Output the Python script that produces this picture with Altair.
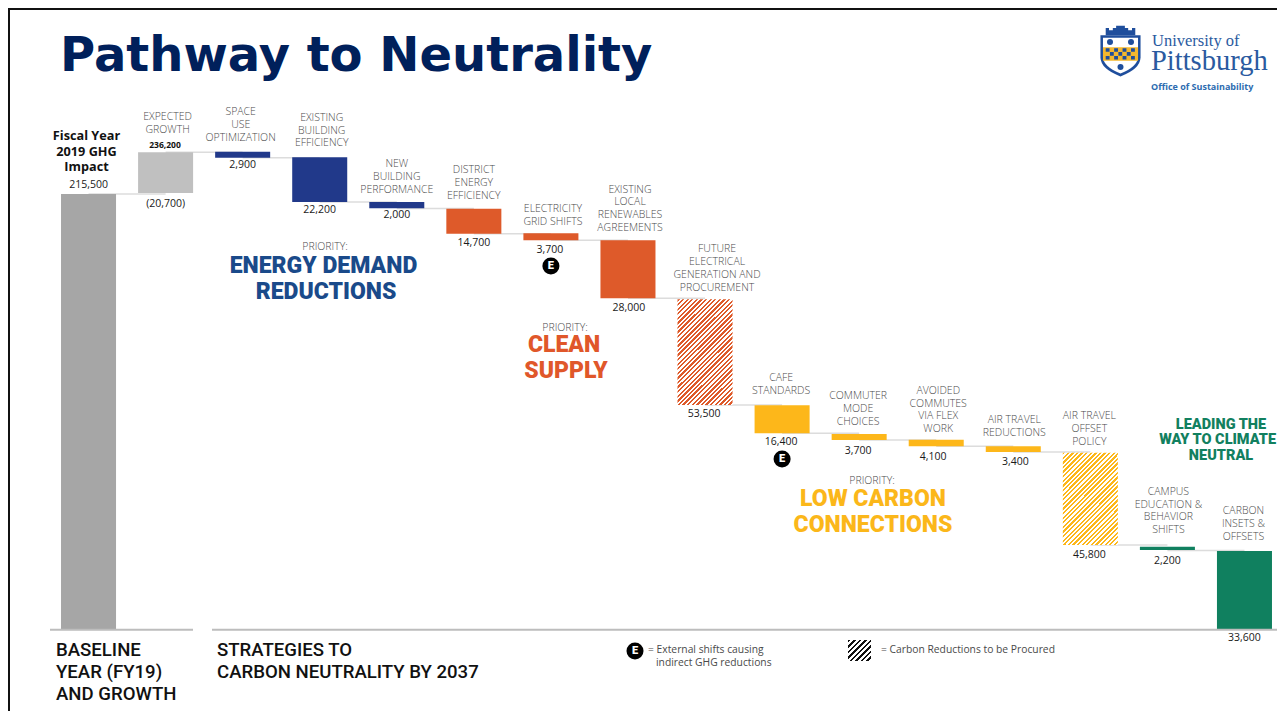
import math
import altair as alt
import pandas as pd

# ---- data (tonnes CO2e; extents as drawn) ----
names = ["Fiscal Year\n2019 GHG\nImpact", "EXPECTED\nGROWTH", "SPACE\nUSE\nOPTIMIZATION",
         "EXISTING\nBUILDING\nEFFICIENCY", "NEW\nBUILDING\nPERFORMANCE", "DISTRICT\nENERGY\nEFFICIENCY",
         "ELECTRICITY\nGRID SHIFTS", "EXISTING\nLOCAL\nRENEWABLES\nAGREEMENTS",
         "FUTURE\nELECTRICAL\nGENERATION AND\nPROCUREMENT", "CAFE\nSTANDARDS",
         "COMMUTER\nMODE\nCHOICES", "AVOIDED\nCOMMUTES\nVIA FLEX\nWORK", "AIR TRAVEL\nREDUCTIONS",
         "AIR TRAVEL\nOFFSET\nPOLICY", "CAMPUS\nEDUCATION &\nBEHAVIOR\nSHIFTS", "CARBON\nINSETS &\nOFFSETS"]
groups = ["Baseline", "Growth", "Energy", "Energy", "Energy", "Supply", "Supply", "Supply", "Supply",
          "Low", "Low", "Low", "Low", "Low", "Lead", "Lead"]
tops = [215500, 236200, 236400, 233650, 211560, 208250, 196100, 192650, 163470, 111070, 96880,
        94070, 90800, 87640, 41180, 39050]
bottoms = [0, 216000, 233450, 211560, 208450, 195900, 192650, 163960, 111220, 97230, 93920,
           90800, 87990, 42020, 39540, 0]
levels = [215500, 236200, 233500, 211560, 208350, 195900, 192650, 163960, 111220, 97230, 93920,
          90800, 87990, 42020, 39300]
value_labels = ["215,500", "(20,700)", "2,900", "22,200", "2,000", "14,700", "3,700", "28,000", "53,500",
                "16,400", "3,700", "4,100", "3,400", "45,800", "2,200", "33,600"]
hatched = ["FUTURE\nELECTRICAL\nGENERATION AND\nPROCUREMENT", "AIR TRAVEL\nOFFSET\nPOLICY"]
badge_names = ["ELECTRICITY\nGRID SHIFTS", "CAFE\nSTANDARDS"]
badge_values = [179900, 84500]

group_domain = ["Baseline", "Growth", "Energy", "Supply", "Low", "Lead"]
group_colors = ["#a6a6a6", "#c0c0c0", "#21398a", "#de5a2a", "#fdb71a", "#10805f"]

# ---- label layout (px offsets from each bar, kept apart from the data) ----
NAME_GAP = [27, 22, 13.7, 14, 12.3, 12.7, 11.6, 12.3, 11.6, 14.6, 12, 10.4, 13.3, 10.7, 16.4, 14]
NAME_DX = [-2, 2, -2, 2, 0, 0, 2, 2, 12, -1, -1, 2, 1, -1, 1, -1]
VALUE_GAP = [-9, 11, 7.6, 7.7, 6.7, 9.6, 9.7, 10, 8.7, 8.7, 10.7, 10.4, 10, 10.3, 10.7, 8.4]
VALUE_DX = [0, 0, 0, 0, 0, 0, -1, 1, -1, -1, -1, -3, 2, -1, 0, 0]

df = pd.DataFrame({"name": names, "group": groups, "top": tops, "bottom": bottoms, "value": value_labels})
solid = df[~df.name.isin(hatched)]
conn = pd.DataFrame({"a": names[:-1], "b": names[1:], "level": levels})
badges = pd.DataFrame({"name": badge_names, "v": badge_values, "t": ["E", "E"]})

X0, Y0 = 50, 100
WIDTH, HEIGHT = 1227, 530
x_scale = alt.Scale(domain=names, range=[0, 1233], paddingInner=0.286, paddingOuter=0.143, round=False)
y_scale = alt.Scale(domain=[0, 262000], nice=False)
x = alt.X("name:N", axis=None, scale=x_scale)
y_top = alt.Y("top:Q", axis=None, scale=y_scale)
y_bottom = alt.Y("bottom:Q", axis=None, scale=y_scale)
LIGHT = "Open Sans"
TEXT_GREY = "#4a4a4a"


def hatch(color, w, h, period):
    k = (w + h) / (w * w + h * h)
    n = int((w + h) / math.sqrt(2) / period)
    stops = []
    for i in range(n):
        stops += [alt.GradientStop(color=color, offset=i / n),
                  alt.GradientStop(color=color, offset=(i + 0.5) / n),
                  alt.GradientStop(color="#ffffff", offset=(i + 0.5) / n),
                  alt.GradientStop(color="#ffffff", offset=(i + 1) / n)]
    return alt.LinearGradient(gradient="linear", stops=stops, x1=0, y1=0, x2=k * w, y2=k * h)


def note(text, px, py, color="#111111", size=10.5, font=LIGHT, weight=400, align="center"):
    return alt.Chart(pd.DataFrame({"t": [text]})).mark_text(
        color=color, fontSize=size, font=font, fontWeight=weight, align=align, baseline="middle",
    ).encode(x=alt.value(px - X0), y=alt.value(py - Y0), text="t:N")


def hline(x1, x2, py, color, width):
    return alt.Chart(pd.DataFrame({"a": [0]})).mark_rule(color=color, strokeWidth=width).encode(
        x=alt.value(x1 - X0), x2=alt.value(x2 - X0), y=alt.value(py - Y0))


def vline(px, y1, y2, color, width):
    return alt.Chart(pd.DataFrame({"a": [0]})).mark_rule(color=color, strokeWidth=width).encode(
        x=alt.value(px - X0), y=alt.value(y1 - Y0), y2=alt.value(y2 - Y0))


def logo_shape(path, color, size=12000):
    return alt.Chart(pd.DataFrame({"a": [0]})).mark_point(
        shape=path, filled=True, fill=color, stroke=None, opacity=1, size=size
    ).encode(x=alt.value(1120.5 - X0), y=alt.value(51 - Y0))


layers = []
# frame
layers += [hline(8, 1277, 9, "#111111", 2), vline(9, 8, 711, "#111111", 2)]
# title
layers.append(note("Pathway to Neutrality", 60, 57, "#00205b", 48, "DejaVu Sans", 700, "left"))
# connectors
layers.append(alt.Chart(conn).mark_rule(color="#dcdcdc", strokeWidth=1.5).encode(
    x=alt.X("a:N", axis=None, scale=x_scale),
    x2="b:N",
    y=alt.Y("level:Q", axis=None, scale=y_scale)))
# bars
layers.append(alt.Chart(solid).mark_bar().encode(
    x=x, y=y_top, y2="bottom:Q",
    color=alt.Color("group:N", legend=None, scale=alt.Scale(domain=group_domain, range=group_colors))))
layers.append(alt.Chart(df[df.name == hatched[0]]).mark_bar(fill=hatch("#de5a2a", 55, 106, 3.2)).encode(
    x=x, y=y_top, y2="bottom:Q"))
layers.append(alt.Chart(df[df.name == hatched[1]]).mark_bar(fill=hatch("#fdb71a", 55, 92, 3.2)).encode(
    x=x, y=y_top, y2="bottom:Q"))
# axis lines
layers += [hline(50, 193, 629.8, "#bdbdbd", 2), hline(212, 1277, 629.8, "#bdbdbd", 2)]
# bar names and values
for i, nm in enumerate(names):
    row = df.iloc[[i]]
    lines = nm.count("\n")
    if i == 0:
        style = dict(font=LIGHT, fontSize=12.7, fontWeight=700, color="#111111", lineHeight=15.4)
    else:
        style = dict(font=LIGHT, fontSize=10.5, fontWeight=300, color=TEXT_GREY, lineHeight=12.8)
    layers.append(alt.Chart(row).mark_text(
        baseline="middle", lineBreak="\n", dx=NAME_DX[i],
        dy=-(NAME_GAP[i] + lines * style["lineHeight"]), **style
    ).encode(x=x, y=y_top, text="name:N"))
    layers.append(alt.Chart(row).mark_text(
        font=LIGHT, fontSize=10.5, fontWeight=500, color="#1a1a1a", baseline="middle",
        dx=VALUE_DX[i], dy=VALUE_GAP[i]
    ).encode(x=x, y=y_top if i == 0 else y_bottom, text="value:N"))
layers.append(note("236,200", 165, 145, size=8.5, weight=700))
# badges
y_badge = alt.Y("v:Q", axis=None, scale=y_scale)
layers.append(alt.Chart(badges).mark_circle(color="#000000", size=290, opacity=1).encode(x=x, y=y_badge))
layers.append(alt.Chart(badges).mark_text(color="#ffffff", font="Roboto", fontWeight=900, fontSize=11,
                                          baseline="middle").encode(x=x, y=y_badge, text="t:N"))
# priorities
HEAD = "Roboto"
layers += [
    note("PRIORITY:", 325, 247, TEXT_GREY, weight=300),
    note("ENERGY DEMAND", 323.5, 266, "#1a4a8a", 23, HEAD, 900),
    note("REDUCTIONS", 326, 291.5, "#1a4a8a", 23, HEAD, 900),
    note("PRIORITY:", 565, 328, TEXT_GREY, weight=300),
    note("CLEAN", 564, 345, "#e0572a", 23, HEAD, 900),
    note("SUPPLY", 566, 370.5, "#e0572a", 23, HEAD, 900),
    note("PRIORITY:", 872, 481, TEXT_GREY, weight=300),
    note("LOW CARBON", 873, 498.5, "#fbb71a", 23, HEAD, 900),
    note("CONNECTIONS", 873, 524.5, "#fbb71a", 23, HEAD, 900),
    note("LEADING THE", 1221, 424.5, "#12805f", 14.5, HEAD, 900),
    note("WAY TO CLIMATE", 1276, 440, "#12805f", 14.5, HEAD, 900, "right"),
    note("NEUTRAL", 1221, 455.5, "#12805f", 14.5, HEAD, 900),
]
# footer
layers += [
    note("BASELINE", 56, 650, "#111111", 18.6, HEAD, 500, "left"),
    note("YEAR (FY19)", 56, 672, "#111111", 18.6, HEAD, 500, "left"),
    note("AND GROWTH", 56, 694, "#111111", 18.6, HEAD, 500, "left"),
    note("STRATEGIES TO", 217, 650, "#111111", 18.6, HEAD, 500, "left"),
    note("CARBON NEUTRALITY BY 2037", 217, 672, "#111111", 18.6, HEAD, 500, "left"),
]
# key
layers.append(alt.Chart(pd.DataFrame({"a": [0]})).mark_circle(color="#000000", size=290, opacity=1).encode(
    x=alt.value(635 - X0), y=alt.value(651 - Y0)))
layers += [
    note("E", 635, 651, "#ffffff", 11, HEAD, 900),
    note("= External shifts causing", 648, 650, TEXT_GREY, 10.3, LIGHT, 400, "left"),
    note("indirect GHG reductions", 656, 663, TEXT_GREY, 10.3, LIGHT, 400, "left"),
    note("= Carbon Reductions to be Procured", 881, 650, TEXT_GREY, 10.3, LIGHT, 400, "left"),
]
layers.append(alt.Chart(pd.DataFrame({"a": [0]})).mark_rect(fill=hatch("#111111", 23, 21, 3.6)).encode(
    x=alt.value(848 - X0), x2=alt.value(871 - X0), y=alt.value(640 - Y0), y2=alt.value(661 - Y0)))
# logo
SHIELD = "M-.366 -.286L.366 -.286L.366 .12Q.36 .33 0 .464Q-.36 .33 -.366 .12Z"
INNER = "M-.32 -.24L.32 -.24L.32 .11Q.31 .29 0 .41Q-.31 .29 -.32 .11Z"
BAND = "M-.32 -.07L.32 -.07L.32 .18L-.32 .18Z"
CROWN = ("M-.27 -.286L-.27 -.42L-.21 -.42L-.21 -.38L-.14 -.38L-.14 -.42L-.08 -.42L-.08 -.46L.08 -.46L.08 -.42"
         "L.14 -.42L.14 -.38L.21 -.38L.21 -.42L.27 -.42L.27 -.286Z")
check_cells = []
for r in range(3):
    for c in range(7):
        if (r + c) % 2 == 0:
            cx0 = -.27 + c * .077
            cy0 = -.05 + r * .07
            check_cells.append(f"M{cx0:.3f} {cy0:.3f}h.07v.065h-.07Z")
layers += [logo_shape(CROWN, "#1f4e9c"), logo_shape(SHIELD, "#1f4e9c"), logo_shape(INNER, "#ffffff"),
           logo_shape(BAND, "#f5b82e"), logo_shape("".join(check_cells), "#1f4e9c")]
for px, py in [(1110, 42), (1131, 42), (1120.5, 67)]:
    layers.append(alt.Chart(pd.DataFrame({"a": [0]})).mark_circle(color="#1f4e9c", size=36, opacity=1).encode(
        x=alt.value(px - X0), y=alt.value(py - Y0)))
layers += [
    note("University of", 1152, 41, "#2a5aa0", 16.5, "Liberation Serif", 400, "left"),
    note("Pittsburgh", 1151, 61, "#2a5aa0", 28.5, "Liberation Serif", 400, "left"),
    note("Office of Sustainability", 1151, 87, "#2d6cb0", 9, LIGHT, 700, "left"),
]

chart = alt.layer(*layers).resolve_scale(color="independent").properties(
    width=WIDTH,
    height=HEIGHT,
    padding={"left": 42, "top": 92, "right": 0, "bottom": 81},
    autosize=alt.AutoSizeParams(type="none"),
    background="#ffffff",
).configure_view(stroke=None)

chart.save("out.html", embed_options={"renderer": "svg", "actions": False})
